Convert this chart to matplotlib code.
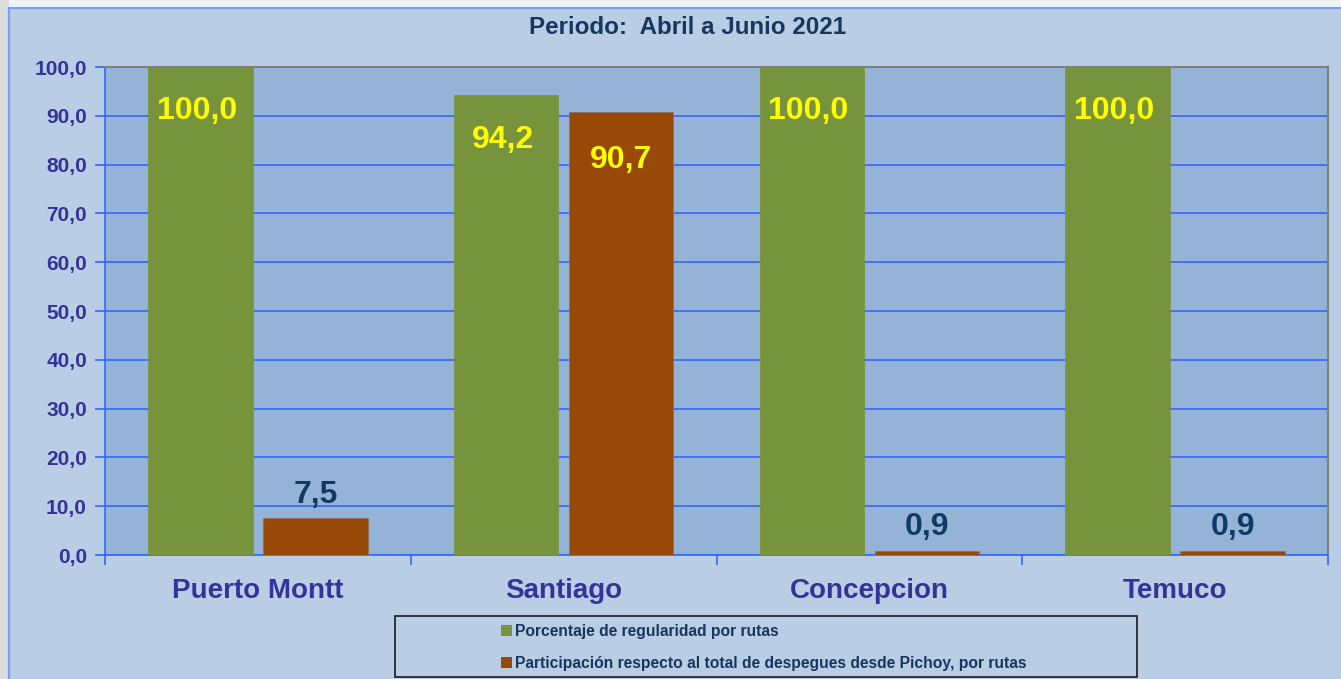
import matplotlib
matplotlib.use("Agg")
import matplotlib.pyplot as plt
from matplotlib.patches import Rectangle, Patch
import numpy as np

categories = ["Puerto Montt", "Santiago", "Concepcion", "Temuco"]
regularidad = [100.0, 94.2, 100.0, 100.0]
participacion = [7.5, 90.7, 0.9, 0.9]
series_names = ["Porcentaje de regularidad por rutas",
                "Participación respecto al total de despegues desde Pichoy, por rutas"]
yticks = [0, 10, 20, 30, 40, 50, 60, 70, 80, 90, 100]
title = "Periodo:  Abril a Junio 2021"

plt.rcParams['font.family'] = ['Liberation Sans', 'DejaVu Sans']

W, H = 1341, 679
fig = plt.figure(figsize=(W / 100, H / 100), dpi=100)
fig.patch.set_facecolor('#DCDCDC')

# top light strip and chart frame
fig.patches.append(Rectangle((9 / W, 1 - 8 / H), 1, 8 / H, transform=fig.transFigure,
                             facecolor='#F2F2F2', edgecolor='none', zorder=-2))
fig.patches.append(Rectangle((9 / W, -0.01), 1, 1 - 8 / H + 0.01, transform=fig.transFigure,
                             facecolor='#B9CDE5', edgecolor='#7C9CF6', linewidth=1.5, zorder=-2))

ax = fig.add_axes([105 / W, 1 - 555 / H, (1328 - 105) / W, (555 - 67) / H])
ax.set_facecolor('#95B3D7')

x = np.arange(len(categories))
bw = 0.342
off = 0.188
green = '#77933C'
orange = '#984807'
b1 = ax.bar(x - off, regularidad, bw, color=green, zorder=3, edgecolor='#77933C', linewidth=0.5)
b2 = ax.bar(x + off, participacion, bw, color=orange, zorder=3, edgecolor='#8C7060', linewidth=0.6)

def fmt(v):
    return f"{v:.1f}".replace('.', ',')

for rect, v in zip(b1, regularidad):
    ax.annotate(fmt(v), (rect.get_x() + rect.get_width() / 2 - 0.012, v), xytext=(0, -32),
                textcoords='offset points', ha='center', va='center',
                color='#FFFF00', fontsize=23, fontweight='bold', zorder=5)
for rect, v in zip(b2, participacion):
    if v > 50:
        ax.annotate(fmt(v), (rect.get_x() + rect.get_width() / 2, v), xytext=(0, -34),
                    textcoords='offset points', ha='center', va='center',
                    color='#FFFF00', fontsize=23, fontweight='bold', zorder=5)
    else:
        ax.annotate(fmt(v), (rect.get_x() + rect.get_width() / 2, v), xytext=(0, 6),
                    textcoords='offset points', ha='center', va='bottom',
                    color='#0F3B66', fontsize=23, fontweight='bold', zorder=5)

ax.set_xlim(-0.5, len(categories) - 0.5)
ax.set_ylim(0, 100)
ax.set_yticks(yticks)
ax.set_yticklabels([fmt(v) for v in yticks])
ax.yaxis.grid(True, color='#3366FF', linewidth=1.2, zorder=1)
ax.set_axisbelow(True)

ax.set_xticks(np.arange(len(categories) + 1) - 0.5)
ax.set_xticklabels([])
ax.set_xticks(x, minor=True)
ax.set_xticklabels(categories, minor=True)
ax.tick_params(axis='x', which='major', length=7, color='#3366FF', direction='out', width=1.2)
ax.tick_params(axis='x', which='minor', length=0, pad=16.5, labelsize=20, labelcolor='#333399')
ax.tick_params(axis='y', length=7, color='#3366FF', direction='out', width=1.2, pad=6,
               labelsize=15, labelcolor='#333399')
for lab in ax.get_xticklabels(minor=True) + ax.get_yticklabels():
    lab.set_fontweight('bold')

for s in ['left', 'bottom']:
    ax.spines[s].set_color('#3366FF')
    ax.spines[s].set_linewidth(1.2)
for s in ['top', 'right']:
    ax.spines[s].set_color('#808080')
    ax.spines[s].set_linewidth(1.5)

fig.text(688 / W, 1 - 27 / H, title, ha='center', va='center', color='#17375E',
         fontsize=17.4, fontweight='bold')

# legend box
fig.patches.append(Rectangle((395 / W, 1 - 677 / H), 742 / W, 61 / H, transform=fig.transFigure,
                             facecolor='none', edgecolor='#1A1A1A', linewidth=1.2, zorder=2))
handles = [Patch(facecolor=green, edgecolor='none'), Patch(facecolor=orange, edgecolor='none')]
leg = fig.legend(handles, series_names, loc='center left',
                 bbox_to_anchor=(501 / W, 1 - 647.5 / H), frameon=False,
                 fontsize=11.25, handlelength=0.7, handleheight=0.7, handletextpad=0.2,
                 labelspacing=1.05, borderpad=0, borderaxespad=0)
for t in leg.get_texts():
    t.set_color('#17375E')
    t.set_fontweight('bold')

fig.savefig('out.png', dpi=100, facecolor=fig.get_facecolor())
